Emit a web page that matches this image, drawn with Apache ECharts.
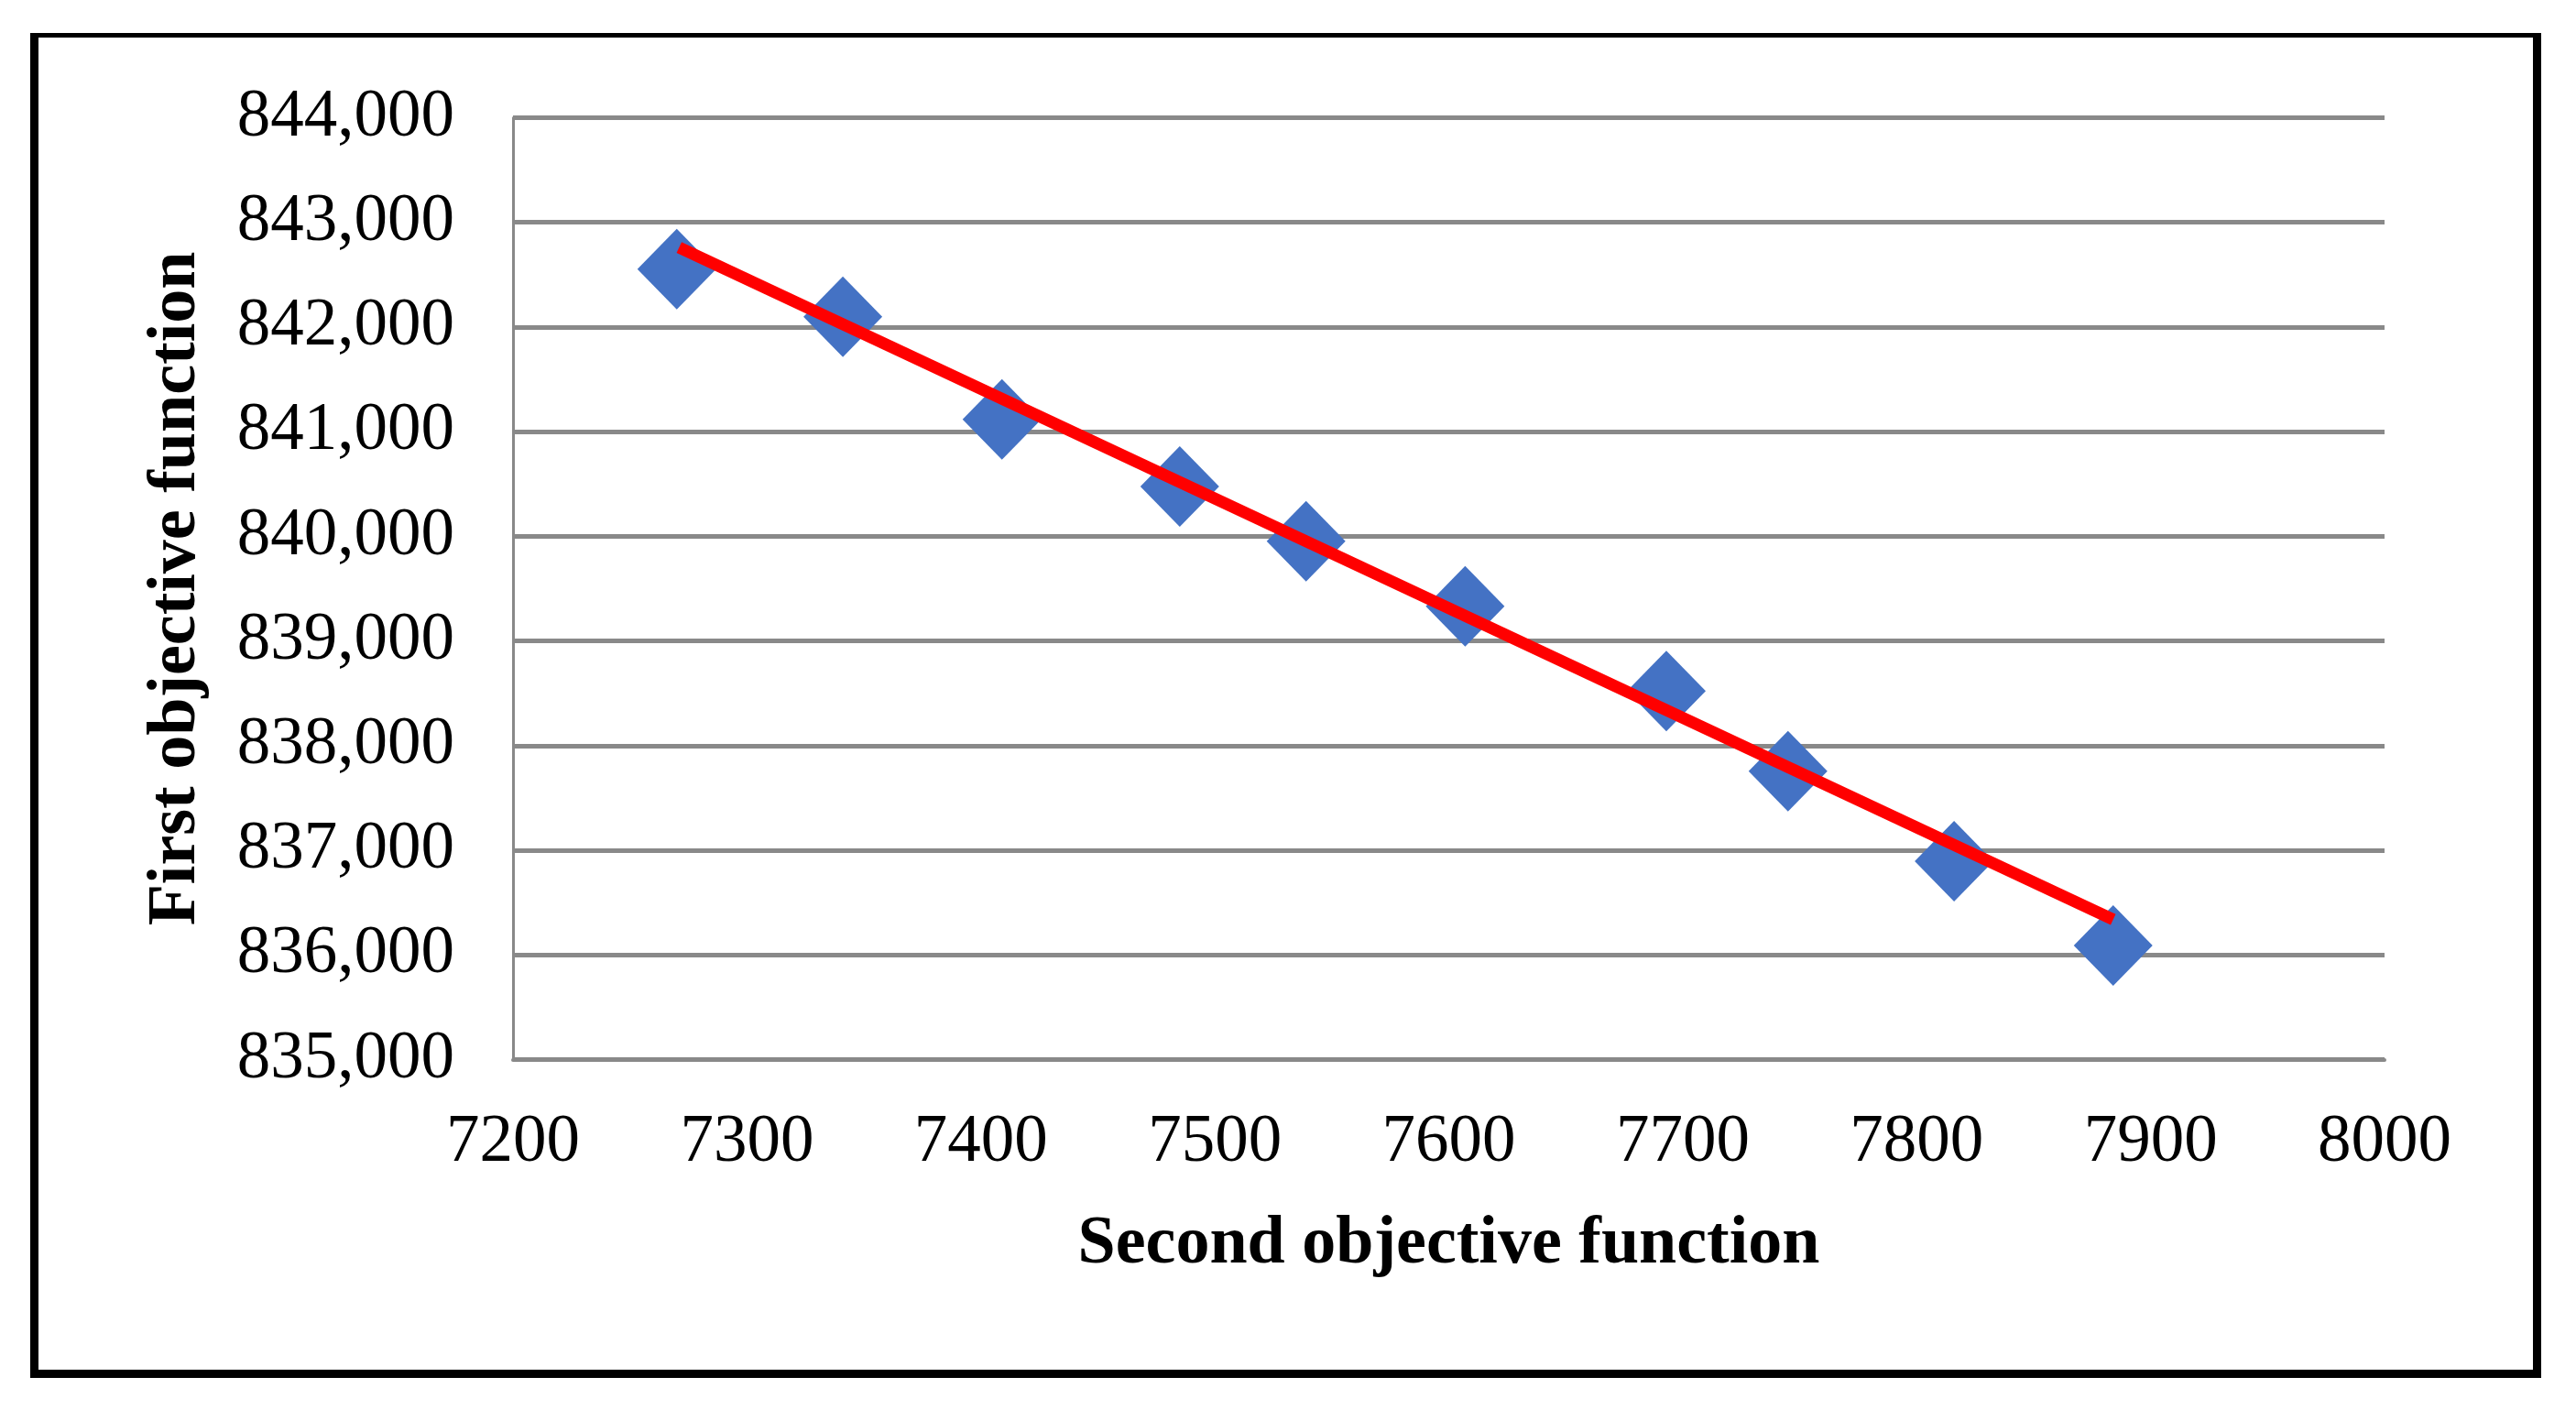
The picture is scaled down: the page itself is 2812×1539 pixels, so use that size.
<!DOCTYPE html>
<html>
<head>
<meta charset="utf-8">
<script src="https://cdn.jsdelivr.net/npm/echarts@6/dist/echarts.min.js"></script>
<style>
  html, body { margin: 0; padding: 0; background: #fff; }
  #chart { width: 2812px; height: 1539px; }
</style>
</head>
<body>
<div id="chart"></div>
<script>
// second objective (x) and first objective (y) of each solution
var secondObj = [7270, 7341, 7409, 7485, 7539, 7607, 7693, 7745, 7816, 7884];
var firstObj = [842554, 842098, 841118, 840476, 839953, 839331, 838521, 837755, 836895, 836090];
// red trend line, ends
var trendX = [7271, 7884];
var trendY = [842761, 836339];

var xTicks = {min: 7200, max: 8000, step: 100};
var yTicks = {min: 835000, max: 844000, step: 1000};

var points = secondObj.map(function (x, i) { return [x, firstObj[i]]; });
var trend = trendX.map(function (x, i) { return [x, trendY[i]]; });

var myChart = echarts.init(document.getElementById('chart'));

var font = 'Liberation Serif, Times New Roman, serif';
var grey = '#898989';

var option = {
    backgroundColor: '#fff',
    animation: false,
    grid: { left: 560, right: 209, top: 128.5, bottom: 382.5 },
    xAxis: {
        type: 'value',
        min: xTicks.min, max: xTicks.max, interval: xTicks.step,
        name: 'Second objective function',
        nameLocation: 'middle',
        nameGap: 165,
        nameTextStyle: { fontFamily: font, fontWeight: 'bold', fontSize: 74, color: '#000' },
        axisLine: { show: true, lineStyle: { color: grey, width: 4 } },
        axisTick: { show: false },
        splitLine: { show: false },
        axisLabel: {
            fontFamily: font, fontSize: 73, color: '#000', margin: 55,
            formatter: function (v) { return String(v); }
        }
    },
    yAxis: {
        type: 'value',
        min: yTicks.min, max: yTicks.max, interval: yTicks.step,
        name: 'First objective function',
        nameLocation: 'middle',
        nameGap: 330,
        nameTextStyle: { fontFamily: font, fontWeight: 'bold', fontSize: 74, color: '#000' },
        axisLine: { show: true, lineStyle: { color: grey, width: 3 } },
        axisTick: { show: false },
        splitLine: { show: true, lineStyle: { color: grey, width: 5 } },
        axisLabel: {
            fontFamily: font, fontSize: 73, color: '#000', margin: 64,
            formatter: function (v) { return v.toLocaleString('en-US'); }
        }
    },
    graphic: [
        // outer black frame
        { type: 'rect', shape: { x: 33, y: 36, width: 9, height: 1468 }, style: { fill: '#000' } },
        { type: 'rect', shape: { x: 2765, y: 36, width: 9, height: 1468 }, style: { fill: '#000' } },
        { type: 'rect', shape: { x: 33, y: 36, width: 2741, height: 5 }, style: { fill: '#000' } },
        { type: 'rect', shape: { x: 33, y: 1495, width: 2741, height: 9 }, style: { fill: '#000' } }
    ],
    series: [
        {
            type: 'scatter',
            data: points,
            symbol: 'diamond',
            symbolSize: [86, 88],
            itemStyle: { color: '#4472C4', opacity: 1 },
            z: 2
        },
        {
            type: 'line',
            data: trend,
            showSymbol: false,
            symbol: 'none',
            lineStyle: { color: '#FF0000', width: 13, cap: 'butt' },
            z: 3
        }
    ]
};

myChart.setOption(option);
</script>
</body>
</html>
